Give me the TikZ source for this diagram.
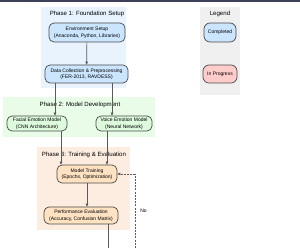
\documentclass[tikz,border=0pt]{standalone}
\usepackage{fontspec}
\setmainfont{Liberation Sans}
\usetikzlibrary{positioning,arrows.meta,calc}
\definecolor{bandc}{HTML}{3B4158}
\definecolor{bgone}{HTML}{E8F3FE}
\definecolor{bgtwo}{HTML}{E8FCE8}
\definecolor{bgthree}{HTML}{FCEDE0}
\definecolor{bglegend}{HTML}{F0F0F0}
\definecolor{nodeone}{HTML}{CCE5FF}
\definecolor{nodetwo}{HTML}{DDFADD}
\definecolor{nodethree}{HTML}{FFE2C2}
\definecolor{nodeprog}{HTML}{FFCCCC}
\definecolor{boxline}{HTML}{4A4A4A}
\definecolor{edgec}{HTML}{5A5A5A}

\begin{document}
\begin{tikzpicture}[x=1pt,y=-1pt,
  box/.style={draw=boxline,line width=0.7pt,rounded corners=5pt,align=center,
    font=\fontsize{5}{6.5}\selectfont,inner sep=0pt},
  ttl/.style={font=\fontsize{6.1}{7}\selectfont,inner sep=0pt},
  edge/.style={draw=edgec,line width=0.7pt,-{Triangle[length=3pt,width=2.6pt]}}]
\useasboundingbox (0,0) rectangle (300,248);
\fill[bandc] (0,0) rectangle (300,1.7);
% cluster backgrounds
\foreach \xa/\ya/\xb/\yb/\col in {41/7/126/88/bgone, 200/7/240/95/bglegend,
    3/97/155/137/bgtwo, 37/147/130/230/bgthree}{
  \fill[\col] (\xa,\ya) rectangle (\xb,\yb);
}
\node[ttl] (ttlone) at (87,14) {Phase 1: Foundation Setup};
\node[ttl] (ttllegend) at (220,14) {Legend};
\node[ttl] (ttltwo) at (80,105) {Phase 2: Model Development};
\node[ttl] (ttlthree) at (84,155) {Phase 3: Training \& Evaluation};
% steps
\node[box,fill=nodeone,minimum width=76pt,minimum height=19pt] (env) at (87,32.5)
  {Environment Setup\\(Anaconda, Python, Libraries)};
\node[box,fill=nodeone,minimum width=83pt,minimum height=18pt] (data) at (86.5,74)
  {Data Collection \& Preprocessing\\(FER-2013, RAVDESS)};
\node[box,fill=nodetwo,minimum width=60pt,minimum height=15pt] (facial) at (37,123.5)
  {Facial Emotion Model\\(CNN Architecture)};
\node[box,fill=nodetwo,minimum width=56pt,minimum height=15pt] (voice) at (124,123.5)
  {Voice Emotion Model\\(Neural Network)};
\node[box,fill=nodethree,minimum width=60pt,minimum height=18pt] (train) at (87,174)
  {Model Training\\(Epochs, Optimization)};
\node[box,fill=nodethree,minimum width=74pt,minimum height=17pt] (perf) at (81,215.5)
  {Performance Evaluation\\(Accuracy, Confusion Matrix)};
% legend
\node[box,rounded corners=6pt,fill=nodeone,minimum width=32pt,minimum height=19pt] (done) at (220,32.5) {Completed};
\node[box,rounded corners=6pt,fill=nodeprog,minimum width=34pt,minimum height=18pt] (prog) at (220,74) {In Progress};
% connectors
\draw[edge] (env) -- (data);
\draw[edge] ([xshift=-31.5pt]data.south) -- ([xshift=-31.5pt]data.south |- facial.north);
\draw[edge] ([xshift=25.5pt]data.south) -- ([xshift=25.5pt]data.south |- voice.north);
\draw[edge] ([xshift=24pt]facial.south) -- ([xshift=24pt]facial.south |- train.north);
\draw[edge] ([xshift=-17pt]voice.south) -- ([xshift=-17pt]voice.south |- train.north);
\draw[edge] (train.south) -- (train.south |- perf.north);
\coordinate (perfout) at (108,248);
\coordinate (retry) at (135,248);
\draw[draw=edgec,line width=0.7pt] (perf.south -| perfout) -- (perfout);
\draw[edge,dash pattern=on 2pt off 1.2pt] (retry) |- (train.east)
  node[pos=0.25,right=5pt,font=\fontsize{5}{6}\selectfont,inner sep=0pt] {No};
\end{tikzpicture}
\end{document}
